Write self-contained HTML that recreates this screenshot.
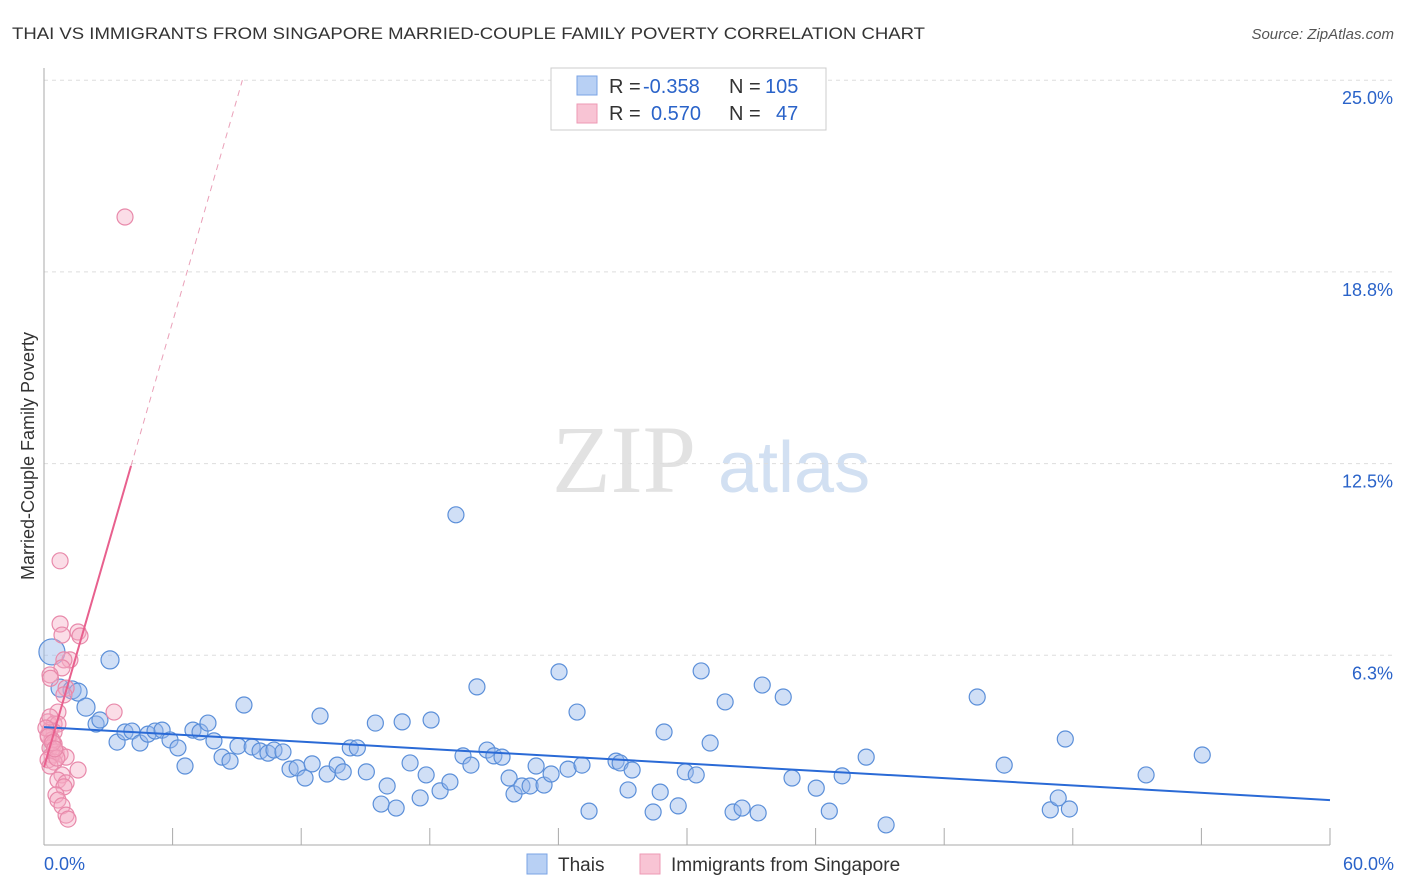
<!DOCTYPE html>
<html><head><meta charset="utf-8"><style>
body{margin:0;background:#fff;font-family:"Liberation Sans",sans-serif;}
svg{display:block}
</style></head><body>
<svg id="chart" width="1406" height="892">
<text x="12" y="39" font-size="17" fill="#333" textLength="913" lengthAdjust="spacingAndGlyphs">THAI VS IMMIGRANTS FROM SINGAPORE MARRIED-COUPLE FAMILY POVERTY CORRELATION CHART</text>
<text x="1394" y="39" font-size="15" fill="#555" font-style="italic" text-anchor="end">Source: ZipAtlas.com</text>
<text x="34" y="456" font-size="18" fill="#333" text-anchor="middle" transform="rotate(-90 34 456)">Married-Couple Family Poverty</text>
<g>
<text x="552" y="492" font-size="96" font-family="Liberation Serif,serif" fill="#e2e2e2">ZIP</text>
<text x="718" y="492" font-size="72" fill="#d2e0f2">atlas</text>
</g>
<g id="grid"></g><g id="marks"></g>
<g>
<rect x="551" y="68" width="275" height="62" fill="#fff" stroke="#ccc"/>
<rect x="577" y="76" width="20" height="19" fill="#b8d0f4" stroke="#7aa3e5"/>
<rect x="577" y="104" width="20" height="19" fill="#f8c4d4" stroke="#ee9ab4"/>
<text x="609" y="93" font-size="20" fill="#333">R =</text>
<text x="643" y="93" font-size="20" fill="#2a63c9">-0.358</text>
<text x="729" y="93" font-size="20" fill="#333">N =</text>
<text x="765" y="93" font-size="20" fill="#2a63c9">105</text>
<text x="609" y="120" font-size="20" fill="#333">R =</text>
<text x="651" y="120" font-size="20" fill="#2a63c9">0.570</text>
<text x="729" y="120" font-size="20" fill="#333">N =</text>
<text x="776" y="120" font-size="20" fill="#2a63c9">47</text>
</g>
<g>
<rect x="527" y="854" width="20" height="20" fill="#b8d0f4" stroke="#7aa3e5"/>
<text x="558" y="871" font-size="19" fill="#333">Thais</text>
<rect x="640" y="854" width="20" height="20" fill="#f8c4d4" stroke="#ee9ab4"/>
<text x="671" y="871" font-size="19" fill="#333">Immigrants from Singapore</text>
</g>
</svg>
<script>
const yTicks=[6.25,12.5,18.75,25];
const yTickLabels=["6.3%","12.5%","18.8%","25.0%"];
const xTicks=[0,6,12,18,24,30,36,42,48,54,60];
const thaisX=[0.37,0.75,1.31,1.59,1.96,3.08,2.43,2.61,3.41,3.78,4.1,4.48,4.85,5.18,5.51,5.88,6.25,6.58,6.95,7.28,7.65,7.93,8.31,8.68,9.33,9.05,9.71,10.08,10.45,10.73,11.15,11.48,11.81,12.18,12.51,12.88,13.21,13.68,13.96,14.29,14.62,15.04,15.46,15.73,16.01,16.43,16.71,17.08,17.55,17.83,18.06,18.48,18.94,19.22,19.55,19.92,20.2,20.67,20.99,21.37,21.7,21.93,22.3,22.68,22.96,23.33,23.66,24.03,24.45,24.87,25.1,25.43,26.69,26.88,27.25,27.44,28.42,28.75,28.93,29.59,29.92,30.43,30.66,31.08,31.78,32.15,32.57,33.32,33.51,34.49,34.9,36.03,36.64,37.24,38.36,39.29,43.54,44.8,46.95,47.32,47.65,47.84,51.42,54.04];
const thaisY=[6.36,5.18,5.12,5.05,4.56,6.1,4.01,4.14,3.42,3.75,3.78,3.39,3.68,3.78,3.81,3.49,3.23,2.64,3.81,3.75,4.04,3.46,2.93,2.8,4.63,3.29,3.26,3.13,3.06,3.16,3.1,2.54,2.58,2.25,2.71,4.27,2.38,2.67,2.45,3.23,3.23,2.45,4.04,1.4,1.99,1.27,4.08,2.74,1.6,2.35,4.14,1.83,2.12,10.83,2.97,2.67,5.22,3.16,2.97,2.93,2.25,1.73,1.99,1.99,2.64,2.02,2.38,5.71,2.54,4.4,2.67,1.17,2.8,2.74,1.86,2.51,1.14,1.79,3.75,1.34,2.45,2.35,5.74,3.39,4.73,1.14,1.27,1.11,5.28,4.89,2.25,1.92,1.17,2.32,2.93,0.72,4.89,2.67,1.21,1.6,3.52,1.24,2.35,3.0];
const immX=[3.78,0.75,0.75,0.84,1.59,1.68,1.21,0.93,0.84,0.28,1.03,0.93,3.27,0.65,0.19,0.47,0.65,0.28,0.47,0.19,0.37,0.47,0.28,0.56,0.75,0.37,1.03,0.19,0.47,0.28,1.59,0.84,0.65,1.03,0.93,0.56,0.65,0.84,1.03,1.12,0.28,0.09,0.2,0.4,0.6,0.3,0.5];
const immY=[20.54,9.33,7.27,6.91,7.01,6.88,6.1,6.1,5.84,5.61,5.18,4.96,4.4,4.4,4.08,4.01,4.01,3.81,3.75,3.65,3.49,3.36,3.23,3.1,3.03,3.0,2.93,2.84,2.77,2.64,2.51,2.35,2.18,2.09,1.96,1.7,1.53,1.34,1.04,0.91,4.24,3.88,3.6,3.4,2.9,5.5,3.2];
const thaiTrend=[3.91,1.53];
const immTrend=[2.6,2.42];
const X=v=>44+v*(1286/60), Y=v=>847-v*(191.7/6.25);
const ns="http://www.w3.org/2000/svg";
function mk(t,a,p){const e=document.createElementNS(ns,t);for(const k in a)e.setAttribute(k,a[k]);p.appendChild(e);return e;}
const g=document.getElementById('grid'),m=document.getElementById('marks');
yTicks.forEach((t,i)=>{
 const l=mk('line',{x1:44,x2:1394,y1:Y(t),y2:Y(t),stroke:'#ddd','stroke-dasharray':'4 4'},g);
 
 
 const tx=mk('text',{x:1393,y:Y(t)+24,'font-size':18,fill:'#2a63c9','text-anchor':'end'},g);tx.textContent=yTickLabels[i];
 
 
});
mk('line',{x1:44,x2:44,y1:68,y2:845,stroke:'#aaa'},g);
mk('line',{x1:44,x2:1330,y1:845,y2:845,stroke:'#aaa'},g);
xTicks.forEach(t=>{const l=mk('line',{x1:X(t),x2:X(t),y1:828,y2:845,stroke:'#aaa'},g);
 
 });
let a=mk('text',{x:44,y:870,'font-size':18,fill:'#2a63c9'},g);a.textContent='0.0%';


a=mk('text',{x:1394,y:870,'font-size':18,fill:'#2a63c9','text-anchor':'end'},g);a.textContent='60.0%';


thaisX.forEach((x,i)=>{const r=i===0?13:(i<6?9:8);const c=mk('circle',{cx:X(x),cy:Y(thaisY[i]),r:r,fill:'rgba(150,185,235,0.45)',stroke:'#5b8fd9','stroke-width':1.2},m);
 
 });
immX.forEach((x,i)=>{const c=mk('circle',{cx:X(x),cy:Y(immY[i]),r:8,fill:'rgba(245,170,195,0.4)',stroke:'#e889aa','stroke-width':1.2},m);
 
 });
let t=mk('line',{x1:X(0),y1:Y(thaiTrend[0]),x2:X(60),y2:Y(thaiTrend[1]),stroke:'#2a6ad6','stroke-width':2},m);


const xs=4.06,xe=(25-immTrend[0])/immTrend[1];
t=mk('line',{x1:X(0),y1:Y(immTrend[0]),x2:X(xs),y2:Y(immTrend[0]+immTrend[1]*xs),stroke:'#e8608e','stroke-width':2},m);


t=mk('line',{x1:X(xs),y1:Y(immTrend[0]+immTrend[1]*xs),x2:X(xe),y2:Y(25),stroke:'#eaa0b8','stroke-width':1,'stroke-dasharray':'6 5'},m);


</script>
</body></html>
